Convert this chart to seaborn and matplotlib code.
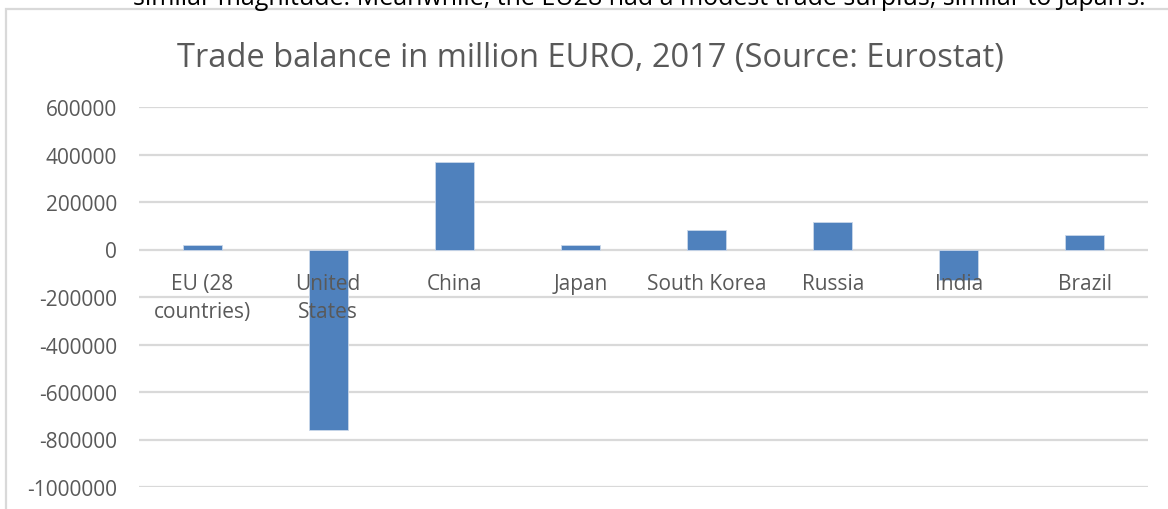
import matplotlib
matplotlib.use("Agg")
import matplotlib.pyplot as plt
from matplotlib.patches import Rectangle
import seaborn as sns

# Trade balance, million EUR, 2017 (Eurostat)
categories = ["EU (28\ncountries)", "United\nStates", "China", "Japan",
              "South Korea", "Russia", "India", "Brazil"]
balance = [20000, -762000, 370000, 21000, 84000, 115000, -130000, 59000]
yticks = [600000, 400000, 200000, 0, -200000, -400000, -600000, -800000, -1000000]

title = "Trade balance in million EURO, 2017 (Source: Eurostat)"
caption = ("similar magnitude. Meanwhile, the EU28 had a modest trade surplus, "
           "similar to Japan\u2019s.")

sns.set_theme(style="white")
plt.rcParams["font.family"] = ["Open Sans", "DejaVu Sans"]

W, H = 1168, 510
fig = plt.figure(figsize=(W / 100, H / 100), dpi=100)
fig.patch.set_facecolor("white")

# chart frame (extends past the right and bottom edges)
fig.patches.append(Rectangle((6 / W, -0.2), 1.3, (H - 10) / H + 0.2,
                             transform=fig.transFigure, fill=False,
                             edgecolor="#d9d9d9", linewidth=1.6, zorder=0))

# last line of the paragraph above the chart, running off the top edge
fig.text(639 / W, 1 - 5 / H, caption, ha="center", va="baseline",
         fontsize=18, color="black")

ax = fig.add_axes([139 / W, 1 - 488 / H, (1148 - 139) / W, (488 - 108) / H])
ax.set_facecolor("none")

sns.barplot(x=list(range(len(categories))), y=balance, color="#4f81bd",
            saturation=1, width=0.31, edgecolor="#c9d7ea", linewidth=0.6,
            ax=ax, zorder=2)

ax.set_ylim(-1000000, 600000)
ax.set_xlim(-0.5, len(categories) - 0.5)
ax.set_yticks(yticks)
ax.set_yticklabels([str(v) for v in yticks], fontsize=15, color="#595959")
ax.tick_params(axis="y", length=0, pad=16)
ax.set_xticks([])
ax.set_xlabel("")
ax.set_ylabel("")
for s in ax.spines.values():
    s.set_visible(False)
for v in yticks:
    ax.axhline(v, color="#d9d9d9", linewidth=1.6, zorder=1)

# category labels hang just below the zero line
for i, name in enumerate(categories):
    ax.annotate(name, xy=(i, 0), xytext=(0, -17), textcoords="offset points",
                ha="center", va="top", fontsize=15, color="#595959",
                linespacing=1.45, zorder=3)

fig.text(590 / W, 1 - 59 / H, title, ha="center", va="center",
         fontsize=23.5, color="#595959")

fig.savefig("out.png", dpi=100, facecolor="white")
